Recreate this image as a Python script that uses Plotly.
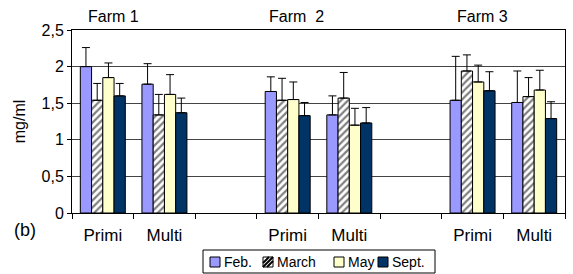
import plotly.graph_objects as go

categories = ["Primi", "Multi", "", "Primi", "Multi", "", "Primi", "Multi"]
farms = ["Farm 1", "Farm  2", "Farm 3"]
series = ["Feb.", "March", "May", "Sept."]

# mean values (None = empty gap category)
feb   = [2.00, 1.76, None, 1.66, 1.34, None, 1.54, 1.51]
march = [1.54, 1.34, None, 1.54, 1.57, None, 1.94, 1.59]
may   = [1.85, 1.62, None, 1.55, 1.20, None, 1.79, 1.68]
sept  = [1.60, 1.37, None, 1.33, 1.23, None, 1.67, 1.29]

# upper ends of error bars
feb_top   = [2.26, 2.04, None, 1.86, 1.60, None, 2.14, 1.94]
march_top = [1.77, 1.62, None, 1.84, 1.92, None, 2.16, 1.85]
may_top   = [2.05, 1.89, None, 1.79, 1.43, None, 2.02, 1.95]
sept_top  = [1.77, 1.57, None, 1.51, 1.44, None, 1.93, 1.52]

values = [feb, march, may, sept]
tops = [feb_top, march_top, may_top, sept_top]
colors = ["#9999ff", "#ffffff", "#ffffcc", "#003366"]

W, H = 573, 274
ML, MR, MT, MB = 72, 8, 30, 61
PW, PH = W - ML - MR, H - MT - MB

def px(x):  # pixel x -> paper
    return (x - ML) / PW

def py(y):  # pixel y -> paper
    return (H - MB - y) / PH

xpos = list(range(len(categories)))

fig = go.Figure()
for i, name in enumerate(series):
    vals = values[i]
    errs = [(t - v) if (v is not None and t is not None) else None for v, t in zip(vals, tops[i])]
    marker = dict(color=colors[i], line=dict(color="black", width=1))
    if name == "March":
        marker["pattern"] = dict(shape="/", fgcolor="black", bgcolor="white", size=5, solidity=0.45)
    fig.add_trace(go.Bar(
        x=xpos, y=vals, name=name, marker=marker, showlegend=False,
        error_y=dict(type="data", array=errs, arrayminus=[0]*len(errs), symmetric=False,
                     color="black", thickness=1, width=4),
    ))

fig.update_layout(
    width=W, height=H,
    margin=dict(l=ML, r=MR, t=MT, b=MB, autoexpand=False),
    barmode="group", bargap=0.27, bargroupgap=0,
    plot_bgcolor="white", paper_bgcolor="white",
    font=dict(family="Liberation Sans, Arial", size=15, color="black"),
    separators=", ",
    showlegend=False,
)
fig.update_xaxes(
    range=[-0.5, len(categories) - 0.5],
    tickvals=[i for i, c in enumerate(categories) if c],
    ticktext=[c for c in categories if c],
    ticks="", showgrid=False, zeroline=False,
    showline=True, linecolor="black", linewidth=1, mirror=True,
    minor=dict(tickvals=[i - 0.5 for i in range(len(categories) + 1)], ticks="outside",
               ticklen=5, tickcolor="black", showgrid=False),
    tickfont=dict(size=17), ticklabelstandoff=7,
)
fig.update_yaxes(
    range=[0, 2.5], dtick=0.5, showgrid=True, gridcolor="#444444", gridwidth=1,
    zeroline=False, showline=True, linecolor="black", linewidth=1, mirror=True,
    ticks="outside", ticklen=4, tickcolor="black",
    title=dict(text="mg/ml", font=dict(size=16), standoff=11),
    tickfont=dict(size=16),
)

farm_label_px = [113, 296, 482]
for fx, fname in zip(farm_label_px, farms):
    fig.add_annotation(x=px(fx), y=py(17), xref="paper", yref="paper", text=fname, showarrow=False,
                       font=dict(size=16), xanchor="center", yanchor="middle")
fig.add_annotation(x=px(25), y=py(230), xref="paper", yref="paper", text="(b)", showarrow=False,
                   font=dict(size=18), xanchor="center", yanchor="middle")

# custom legend
fig.add_shape(type="rect", xref="paper", yref="paper", x0=px(203), x1=px(435), y0=py(250), y1=py(273),
              line=dict(color="black", width=1), fillcolor="white", layer="above")
sq_left = [210, 263, 334, 378]
for i, name in enumerate(series):
    x0, x1 = sq_left[i], sq_left[i] + 10
    y0, y1 = 257, 267
    fig.add_shape(type="rect", xref="paper", yref="paper", x0=px(x0), x1=px(x1), y0=py(y1), y1=py(y0),
                  line=dict(color="black", width=1), fillcolor=colors[i], layer="above")
    if name == "March":
        for d in (-4, 0, 4):
            fig.add_shape(type="line", xref="paper", yref="paper",
                          x0=px(max(x0, x0 + d)), y0=py(min(y1, y1 + d)),
                          x1=px(min(x1, x1 + d)), y1=py(max(y0, y0 + d)),
                          line=dict(color="black", width=2), layer="above")
    fig.add_annotation(x=px(x1 + 2), y=py(262), xref="paper", yref="paper", text=name,
                       showarrow=False, font=dict(size=14), xanchor="left", yanchor="middle")

fig.write_html("out.html", config={"displayModeBar": False},
               post_script="document.body.style.margin='0';document.body.style.overflow='hidden';")
